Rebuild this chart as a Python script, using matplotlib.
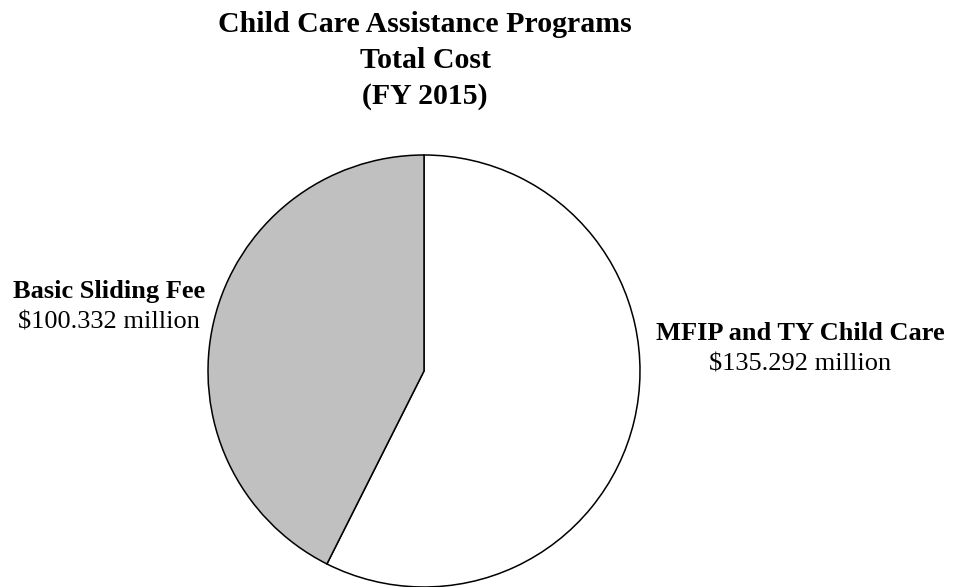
import matplotlib.pyplot as plt

programs = ["MFIP and TY Child Care", "Basic Sliding Fee"]
costs = [135.292, 100.332]
cost_labels = ["$135.292 million", "$100.332 million"]
colors = ["#FFFFFF", "#C0C0C0"]
title_lines = ["Child Care Assistance Programs", "Total Cost", "(FY 2015)"]

W, H = 963, 587
fig = plt.figure(figsize=(W / 100, H / 100), dpi=100)
plt.rcParams['font.family'] = ['Liberation Serif', 'DejaVu Serif']

# pie centred at pixel (424, 371), radius 216
cx, cy, r = 424, 371, 216
ax = fig.add_axes([(cx - r) / W, (H - cy - r) / H, 2 * r / W, 2 * r / H])
wedges, _ = ax.pie(costs, colors=colors, startangle=90, counterclock=False,
                   radius=1, wedgeprops=dict(edgecolor="black", linewidth=1.1))
for w in wedges:
    w.set_clip_on(False)
ax.set_xlim(-1, 1)
ax.set_ylim(-1, 1)
ax.set_aspect("equal")
ax.axis("off")

# title, one line at a time
for i, line in enumerate(title_lines):
    fig.text(425 / W, 1 - (24 + 36 * i) / H, line, ha="center", va="center",
             fontsize=21.5, fontweight="bold")

# labels (pixel positions of text centres)
pos = {"MFIP and TY Child Care": (800, 334), "Basic Sliding Fee": (109, 292)}
for name, lab in zip(programs, cost_labels):
    x, y = pos[name]
    fig.text(x / W, 1 - y / H, name, ha="center", va="center",
             fontsize=19, fontweight="bold")
    fig.text(x / W, 1 - (y + 31) / H, lab, ha="center", va="center", fontsize=19)

fig.savefig("out.png", dpi=100)
